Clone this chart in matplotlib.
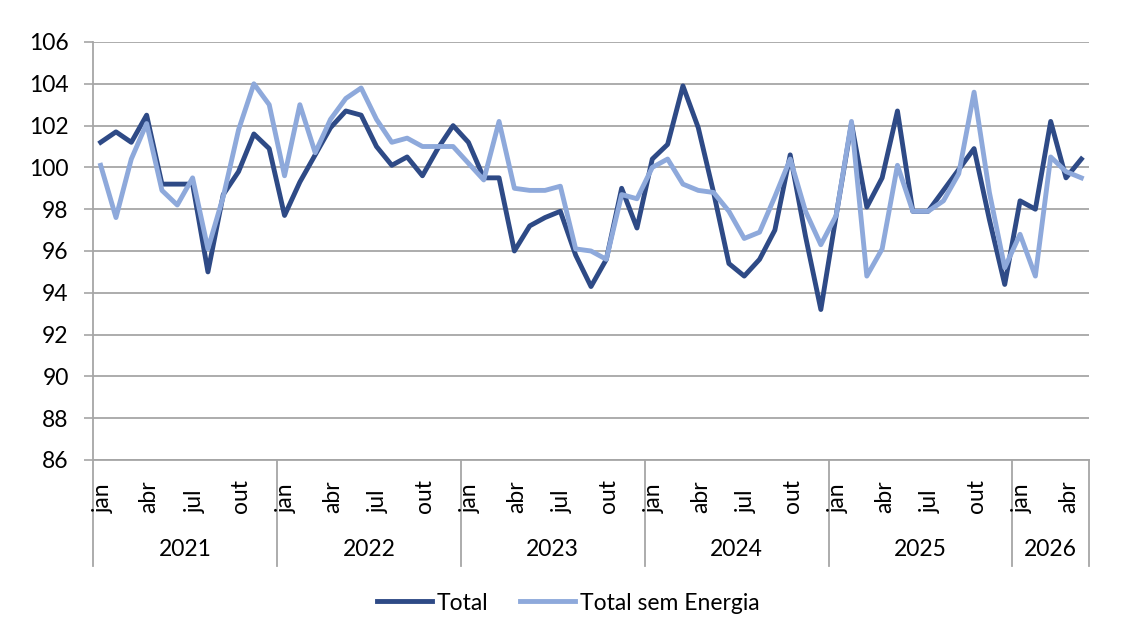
import matplotlib
matplotlib.use('Agg')
import matplotlib.pyplot as plt
import matplotlib.transforms as mtransforms
import numpy as np

plt.rcParams['font.family'] = ['Lato', 'DejaVu Sans']

# monthly index, jan/2021 .. mai/2026
years = ['2021', '2022', '2023', '2024', '2025', '2026']
months_per_year = [12, 12, 12, 12, 12, 5]
month_names = ['jan', 'fev', 'mar', 'abr', 'mai', 'jun',
               'jul', 'ago', 'set', 'out', 'nov', 'dez']

total = [
    101.2, 101.7, 101.2, 102.5, 99.2, 99.2, 99.2, 95.0, 98.7, 99.8, 101.6, 100.9,
    97.7, 99.3, 100.6, 101.9, 102.7, 102.5, 101.0, 100.1, 100.5, 99.6, 100.9, 102.0,
    101.2, 99.5, 99.5, 96.0, 97.2, 97.6, 97.9, 95.8, 94.3, 95.6, 99.0, 97.1,
    100.4, 101.1, 103.9, 101.9, 98.8, 95.4, 94.8, 95.6, 97.0, 100.6, 96.7, 93.2,
    97.7, 102.1, 98.1, 99.5, 102.7, 97.9, 97.9, 98.9, 99.9, 100.9, 97.5, 94.4,
    98.4, 98.0, 102.2, 99.5, 100.4,
]
sem_energia = [
    100.1, 97.6, 100.4, 102.1, 98.9, 98.2, 99.5, 96.1, 98.6, 101.8, 104.0, 103.0,
    99.6, 103.0, 100.7, 102.3, 103.3, 103.8, 102.3, 101.2, 101.4, 101.0, 101.0, 101.0,
    100.2, 99.4, 102.2, 99.0, 98.9, 98.9, 99.1, 96.1, 96.0, 95.6, 98.7, 98.5,
    100.0, 100.4, 99.2, 98.9, 98.8, 97.9, 96.6, 96.9, 98.6, 100.4, 97.9, 96.3,
    97.7, 102.2, 94.8, 96.1, 100.1, 97.9, 97.9, 98.4, 99.7, 103.6, 98.8, 95.2,
    96.8, 94.8, 100.5, 99.8, 99.5,
]

dark = '#2E4A86'
light = '#8EA9DB'
grid_c = '#A6A6A6'
fs = 16.5

x = np.arange(len(total))

fig = plt.figure(figsize=(11.3, 6.4), dpi=100)
ax = fig.add_axes([93 / 1130, 180 / 640, 996 / 1130, 418 / 640])

ax.plot(x, total, color=dark, lw=3.5, label='Total')
ax.plot(x, sem_energia, color=light, lw=3.5, label='Total sem Energia')

ax.set_xlim(-0.5, len(total) - 0.5)
ax.set_ylim(86, 106)
ax.set_yticks(np.arange(86, 107, 2))
ax.yaxis.grid(True, color=grid_c, lw=1.3)
ax.set_axisbelow(True)
ax.tick_params(axis='y', labelsize=fs, length=6.5, width=1.2, color=grid_c, pad=11)
ax.set_xticks([])

for s in ['top', 'right']:
    ax.spines[s].set_visible(False)
for s in ['left', 'bottom']:
    ax.spines[s].set_color(grid_c)
    ax.spines[s].set_linewidth(1.3)

trans = mtransforms.blended_transform_factory(ax.transData, ax.transAxes)

# month labels every quarter (text starts at the same baseline, Excel style)
i = 0
for n in months_per_year:
    for m in range(n):
        if m % 3 == 0:
            ax.text(i + 0.15, -0.127, month_names[m], transform=trans, rotation=90,
                    ha='center', va='bottom', fontsize=fs)
        i += 1

# year labels and dividers
start = 0
edges = [-0.5]
for yr, n in zip(years, months_per_year):
    ax.text(start + n / 2 - 0.5, -0.215, yr, transform=trans, ha='center', va='center', fontsize=fs)
    start += n
    edges.append(start - 0.5)
for e in edges:
    ax.plot([e, e], [0, -0.254], transform=trans, color=grid_c, lw=1.3, clip_on=False)

fig.legend(loc='center', bbox_to_anchor=(568 / 1130, 1 - 603 / 640), ncol=2, frameon=False,
           fontsize=fs, handlelength=2.4, handletextpad=0.2, columnspacing=1.4)

fig.savefig('out.png', dpi=100)
